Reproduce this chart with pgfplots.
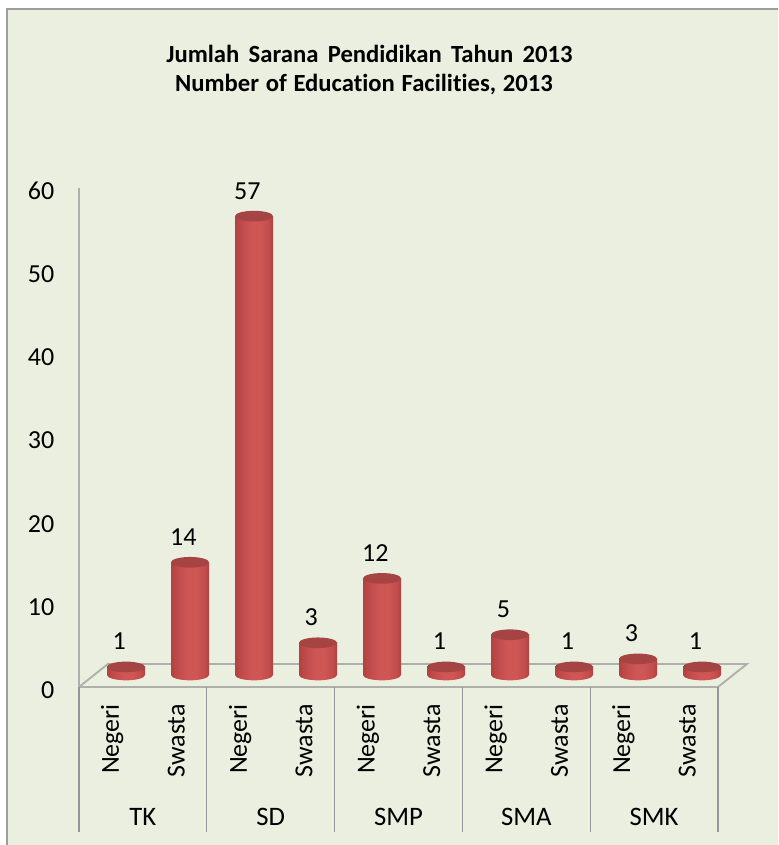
\documentclass[border=0pt]{standalone}
\usepackage{pgfplots}
\pgfplotsset{compat=1.18}
\usepackage{fontspec}
\setmainfont[RawFeature=-liga]{Carlito}
\usetikzlibrary{shapes.geometric}
\definecolor{panel}{HTML}{EBEFDF}
\definecolor{frameg}{HTML}{9C9E9C}
\definecolor{axg}{HTML}{AEB0AC}
\definecolor{sepg}{HTML}{94969A}
\definecolor{cylE}{HTML}{B04241}
\definecolor{cylL}{HTML}{C44E4D}
\definecolor{cylM}{HTML}{CE5655}
\definecolor{cylT}{HTML}{A54443}
\pgfdeclarehorizontalshading{cylb}{100bp}{color(0bp)=(cylE); color(25bp)=(cylE); color(36bp)=(cylL); color(47bp)=(cylM); color(58bp)=(cylM); color(68bp)=(cylL); color(75bp)=(cylE); color(100bp)=(cylE)}
\pgfplotsset{cylbar/.style={ybar,bar width=28.5pt,draw=none,shading=cylb,forget plot}}
\begin{document}
\begin{tikzpicture}
\begin{scope}[x=0.75pt,y=-0.75pt,yshift=633.75pt]
\path[use as bounding box] (0,0) rectangle (778,845);
\fill[panel] (7,9) rectangle (778,845);
\draw[frameg,line width=1.5pt] (7,845) -- (7,9) -- (778,9);
\node[font=\bfseries\fontsize{18.5}{20}\selectfont,text=black] at (369.5,54) {\spaceskip=7pt Jumlah Sarana Pendidikan Tahun 2013};
\node[font=\bfseries\fontsize{18.5}{20}\selectfont,text=black] at (364,85) {\spaceskip=5pt Number of Education Facilities, 2013};
\end{scope}
% main frame: value axis, floor, categories
\begin{axis}[
  at={(59.25pt,118.5pt)}, anchor=south west, scale only axis,
  width=479.25pt, height=374.25pt,
  xmin=0, xmax=10, ymin=0, ymax=60,
  clip=false,
  axis y line=left, axis x line=bottom,
  axis line style={-,draw=axg,line width=1.6pt},
  ytick={0,10,20,30,40,50,60},
  xtick={0.5,1.5,2.5,3.5,4.5,5.5,6.5,7.5,8.5,9.5},
  xticklabels={Negeri,Swasta,Negeri,Swasta,Negeri,Swasta,Negeri,Swasta,Negeri,Swasta},
  major tick length=0pt,
  /pgf/number format/assume math mode=true,
  yticklabel style={font=\fontsize{19.5}{22}\selectfont,xshift=-15pt,yshift=-2.25pt,text=black},
  xticklabel style={font=\fontsize{19.5}{22}\selectfont,rotate=90,anchor=east,text=black,inner sep=0pt,xshift=-12.75pt,yshift=-1pt},
]
\addplot[draw=none,forget plot] coordinates {(0,0)};
\draw[axg,line width=1.4pt] (axis cs:0,0) -- (axis cs:0.453,2.77) -- (axis cs:10.453,2.77) -- (axis cs:10,0);
\foreach \s in {0,2,4,6,8,10}{
  \edef\tmp{\noexpand\draw[sepg,line width=1pt] (axis cs:\s,0) -- (axis cs:\s,-17.4);}\tmp
}
\foreach \s/\t in {1/TK,3/SD,5/SMP,7/SMA,9/SMK}{
  \edef\tmp{\noexpand\node[font=\noexpand\fontsize{20}{22}\noexpand\selectfont,text=black] at (axis cs:\s,-15.6) {\t};}\tmp
}
\end{axis}
% cylinders
\begin{axis}[
  at={(70.5pt,127.5pt)}, anchor=south west, scale only axis,
  width=480pt, height=362.25pt,
  xmin=0, xmax=10, ymin=0, ymax=60,
  clip=false, hide axis,
]
% bases
\addplot[draw=none,mark=none,
  nodes near coords={},
  every node near coord/.style={ellipse,anchor=center,minimum width=28.5pt,minimum height=8pt,inner sep=0pt,
    shading=cylb,draw=none}]
  table[row sep=\\] {x y\\ 0.5 0\\ 1.5 0\\ 2.5 0\\ 3.5 0\\ 4.5 0\\ 5.5 0\\ 6.5 0\\ 7.5 0\\ 8.5 0\\ 9.5 0\\};
% bodies, one plot per bar so that each has its own shading
\addplot[cylbar] coordinates {(0.5,1)};
\addplot[cylbar] coordinates {(1.5,14)};
\addplot[cylbar] coordinates {(2.5,57)};
\addplot[cylbar] coordinates {(3.5,4)};
\addplot[cylbar] coordinates {(4.5,12)};
\addplot[cylbar] coordinates {(5.5,1)};
\addplot[cylbar] coordinates {(6.5,5)};
\addplot[cylbar] coordinates {(7.5,1)};
\addplot[cylbar] coordinates {(8.5,2)};
\addplot[cylbar] coordinates {(9.5,1)};
% tops
\addplot[draw=none,mark=none,
  nodes near coords={},
  every node near coord/.style={ellipse,anchor=center,minimum width=28.5pt,minimum height=8pt,inner sep=0pt,
    fill=cylT,draw=none}]
  table[row sep=\\] {x y\\ 0.5 1\\ 1.5 14\\ 2.5 57\\ 3.5 4\\ 4.5 12\\ 5.5 1\\ 6.5 5\\ 7.5 1\\ 8.5 2\\ 9.5 1\\};
% printed labels
\addplot[draw=none,mark=none,
  point meta=explicit symbolic,
  nodes near coords,
  every node near coord/.style={anchor=center,font=\fontsize{19.5}{22}\selectfont,text=black,xshift=-5pt,yshift=19pt,inner sep=0pt}]
  table[row sep=\\,meta=l] {x y l\\ 0.5 1 1\\ 1.5 14 14\\ 2.5 57 57\\ 3.5 4 3\\ 4.5 12 12\\ 5.5 1 1\\ 6.5 5 5\\ 7.5 1 1\\ 8.5 2 3\\ 9.5 1 1\\};
\end{axis}
\end{tikzpicture}
\end{document}
